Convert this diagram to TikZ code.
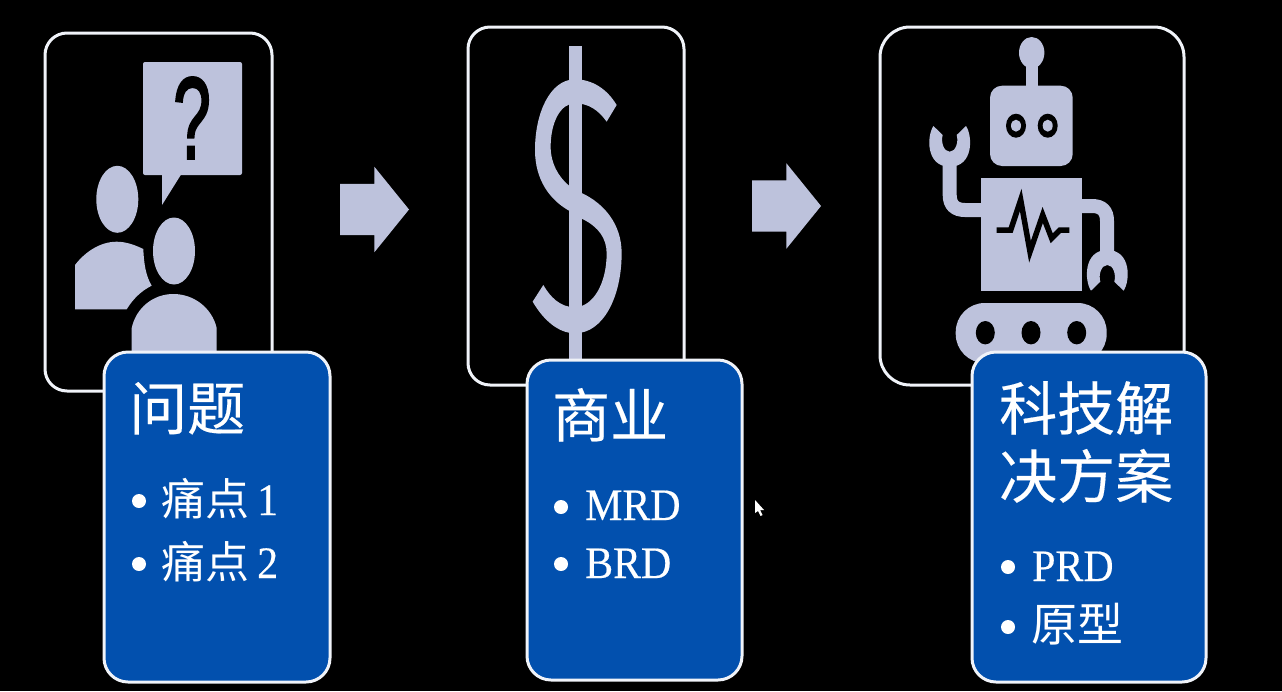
\documentclass[tikz,border=0pt]{standalone}
\usepackage{fontspec}
\setmainfont[FakeStretch=0.93,FakeBold=0.35]{Liberation Serif}
\newfontfamily\cjkfont[FakeBold=0.3]{Noto Sans CJK SC}
\newfontfamily\cjklight{Noto Sans CJK SC}
\newfontfamily\qfont[FakeBold=2.5]{Liberation Sans}
\usetikzlibrary{shapes.arrows}
\definecolor{iconc}{HTML}{BDC2DC}
\definecolor{boxc}{HTML}{0250AE}
\definecolor{edgec}{HTML}{F0F3F9}
\tikzset{
  panel/.style={draw=edgec,line width=3pt,fill=black,rounded corners=#1,inner sep=0pt},
  card/.style={draw=edgec,line width=3pt,fill=boxc,rounded corners=24pt,inner sep=0pt},
  blockarrow/.style={single arrow,fill=iconc,anchor=tail,inner xsep=0pt,inner ysep=25.5pt,outer sep=0pt,minimum height=69pt,single arrow head extend=17pt,single arrow tip angle=102},
  title/.style={anchor=base west,inner sep=0pt,text=white,font=\fontsize{58}{69}\selectfont\cjkfont},
  item/.style={anchor=base west,inner sep=0pt,text=white,font=\fontsize{45}{45}\selectfont},
  dot/.style={circle,fill=white,minimum size=14pt,inner sep=0pt},
  claw/.pic={
    \fill[iconc] (-16.3,-19) .. controls (-23,-9) and (-24,21.7) .. (0,21.7) .. controls (24,21.7) and (23,-9) .. (16.3,-19) -- (7,-10) .. controls (9,-3) and (6,6.7) .. (0,6.7) .. controls (-6,6.7) and (-9,-3) .. (-7,-10) -- cycle;
  }
}
\begin{document}
\begin{tikzpicture}[x=1pt,y=-1pt]
  \useasboundingbox (0,0) rectangle (1282,691);
  \fill[black] (0,0) rectangle (1282,691);

  %left
  \node[panel=22pt,at={(158.5,212)},minimum width=227pt,minimum height=358pt] (pa) {};
  \fill[iconc,rounded corners=2pt] (143,62) rectangle (242,175);
  \fill[iconc] (162,173) -- (162,205) -- (182,173) -- cycle;
  \node[at={(192,118)},inner sep=0pt,xscale=0.58,text=black,font=\fontsize{116}{116}\selectfont\qfont] (qm) {?};
  \fill[iconc] (117.3,199.3) ellipse [x radius=21pt,y radius=33.5pt];
  \fill[iconc] (174,251) ellipse [x radius=21pt,y radius=33.5pt];
  \fill[iconc] (75,309.3) -- (75,265) .. controls (85,252) and (100,241.7) .. (116.7,241.7) .. controls (126,241.7) and (135,245) .. (143.3,249) .. controls (144,265) and (146,276) .. (151.7,285.7) .. controls (141,291) and (133,299) .. (126.7,309.3) -- cycle;
  \fill[iconc] (131.7,360) -- (131.7,328) .. controls (136,308) and (153,294) .. (173.3,294) .. controls (194,294) and (212,308) .. (216.7,328) -- (216.7,360) -- cycle;

  %middle
  \node[panel=22pt,at={(576,206)},minimum width=216pt,minimum height=358pt] (pb) {};
  \fill[iconc] (569,46) rectangle (582.3,362);
  \begin{scope}[shift={(460,20)},x=0.3333pt,y=-0.3333pt]
    \fill[iconc] (470,255) .. controls (440,205) and (395,178) .. (345,178) .. controls (270,178) and (225,280) .. (225,390) .. controls (225,480) and (270,540) .. (327,572) -- (367,597) .. controls (415,620) and (440,655) .. (440,700) .. controls (440,790) and (400,860) .. (345,862) .. controls (300,862) and (270,830) .. (250,795) -- (218,845) .. controls (250,900) and (295,940) .. (345,940) .. controls (430,940) and (485,830) .. (485,700) .. controls (485,610) and (430,550) .. (367,520) -- (327,497) .. controls (295,470) and (272,430) .. (272,380) .. controls (272,310) and (300,250) .. (345,250) .. controls (385,250) and (415,270) .. (440,305) -- cycle;
  \end{scope}

  %right
  \node[panel=30pt,at={(1032,206)},minimum width=304pt,minimum height=358pt] (pc) {};
  \fill[iconc] (1031.7,52.7) ellipse [x radius=12.7pt,y radius=15.7pt];
  \fill[iconc] (1025.7,55) rectangle (1037.7,90);
  \fill[iconc,rounded corners=12pt] (990,85.7) rectangle (1072.7,166);
  \foreach \ex in {1016,1047.7}{
    \fill[black] (\ex,125.7) ellipse [x radius=10pt,y radius=12pt];
    \fill[iconc] (\ex,125.7) ellipse [x radius=5pt,y radius=6pt];
  }
  \fill[iconc] (981,177.7) rectangle (1082.3,290.7);
  \draw[black,line width=5.5pt,miter limit=8] (996.7,230) -- (1010.7,230) -- (1020.7,200) -- (1030,251.7) -- (1042.7,215) -- (1051.7,238.3) -- (1060,230) -- (1069.3,230);
  \draw[iconc,line width=14pt] (949.7,160) -- (949.7,195) .. controls (949.7,205) and (955,210) .. (965,210) -- (985,210);
  \draw[iconc,line width=14pt] (1078,206) -- (1092,206) .. controls (1102,206) and (1107,211) .. (1107,221) -- (1107,255);
  \pic at (949.7,145) {claw};
  \pic[rotate=180] at (1107.3,271.7) {claw};
  \fill[iconc,rounded corners=29pt] (955.7,303) rectangle (1106.7,363);
  \foreach \wx in {985.3,1031,1076.7}{
    \fill[black] (\wx,332.7) ellipse [x radius=9.5pt,y radius=11.7pt];
  }

  %cards
  \node[card,at={(217,517)},minimum width=226pt,minimum height=330pt] (ca) {};
  \node[card,at={(634.5,520)},minimum width=215pt,minimum height=320pt] (cb) {};
  \node[card,at={(1089,517)},minimum width=234pt,minimum height=330pt] (cc) {};

  %arrows
  \node[blockarrow,at={(340,209.5)}] (ab) {};
  \node[blockarrow,at={(752,206)}] (bc) {};

  %card text left
  \node[title,at={(129,430)}] (ta) {问题};
  \node[dot,at={(139,501)}] (da1) {};
  \node[item,at={(161,515)}] (ia1) {{\fontsize{44}{44}\selectfont\cjklight 痛点}\hspace{8pt}1};
  \node[dot,at={(139,564)}] (da2) {};
  \node[item,at={(161,578)}] (ia2) {{\fontsize{44}{44}\selectfont\cjklight 痛点}\hspace{8pt}2};

  %card text middle
  \node[title,at={(552,437)}] (tb) {商业};
  \node[dot,at={(561,507)}] (db1) {};
  \node[item,at={(585,520)}] (ib1) {MRD};
  \node[dot,at={(561,564)}] (db2) {};
  \node[item,at={(585,578)}] (ib2) {BRD};

  %card text right
  \node[title,at={(999,430)}] (tc1) {科技解};
  \node[title,at={(999,498)}] (tc2) {决方案};
  \node[dot,at={(1008,567)}] (dc1) {};
  \node[item,at={(1032,581)}] (ic1) {PRD};
  \node[dot,at={(1008,627)}] (dc2) {};
  \node[item,at={(1031,641)}] (ic2) {{\fontsize{46}{46}\selectfont\cjklight 原型}};

  %cursor
  \fill[white] (755,500) -- (755,513) -- (758,511) -- (760.5,516) -- (762.5,515) -- (760,510) -- (764,510) -- cycle;
\end{tikzpicture}
\end{document}
